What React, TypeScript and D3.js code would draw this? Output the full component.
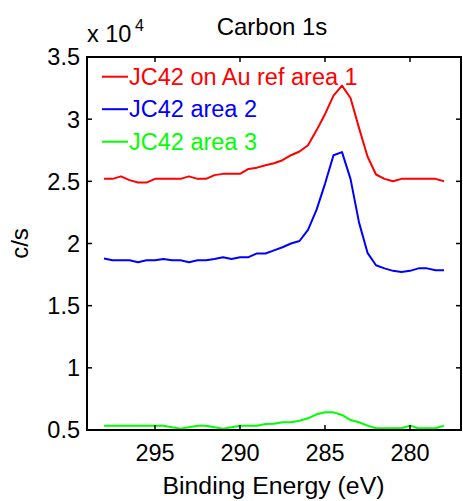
import React from "react";
import * as d3 from "d3";

const energies = [298, 297.5, 297, 296.5, 296, 295.5, 295, 294.5, 294, 293.5, 293, 292.5, 292, 291.5, 291, 290.5, 290, 289.5, 289, 288.5, 288, 287.5, 287, 286.5, 286, 285.5, 285, 284.5, 284, 283.5, 283, 282.5, 282, 281.5, 281, 280.5, 280, 279.5, 279, 278.5, 278];

const area1 = [2.52, 2.52, 2.54, 2.51, 2.49, 2.49, 2.52, 2.52, 2.52, 2.52, 2.54, 2.52, 2.52, 2.55, 2.56, 2.56, 2.56, 2.60, 2.61, 2.63, 2.645, 2.67, 2.71, 2.74, 2.79, 2.91, 3.04, 3.19, 3.27, 3.17, 2.93, 2.70, 2.555, 2.52, 2.50, 2.52, 2.52, 2.52, 2.52, 2.52, 2.50];
const area2 = [1.88, 1.865, 1.865, 1.865, 1.85, 1.865, 1.865, 1.875, 1.865, 1.865, 1.85, 1.865, 1.865, 1.875, 1.89, 1.875, 1.89, 1.89, 1.92, 1.92, 1.945, 1.97, 2.0, 2.02, 2.11, 2.27, 2.48, 2.71, 2.735, 2.52, 2.17, 1.925, 1.825, 1.8, 1.78, 1.77, 1.78, 1.8, 1.8, 1.785, 1.785];
const area3 = [0.535, 0.535, 0.535, 0.535, 0.535, 0.535, 0.535, 0.535, 0.522, 0.511, 0.522, 0.535, 0.535, 0.522, 0.511, 0.522, 0.535, 0.535, 0.535, 0.548, 0.55, 0.562, 0.562, 0.575, 0.594, 0.626, 0.642, 0.642, 0.621, 0.58, 0.562, 0.535, 0.514, 0.514, 0.514, 0.514, 0.535, 0.514, 0.514, 0.514, 0.535];

const seriesNames = ["JC42 on Au ref area 1", "JC42 area 2", "JC42 area 3"];
const seriesColors = ["#ff0000", "#0000ff", "#00ff00"];
const xTicks = [295, 290, 285, 280];
const yTicks = [0.5, 1, 1.5, 2, 2.5, 3, 3.5];
const yTickLabels = ["0.5", "1", "1.5", "2", "2.5", "3", "3.5"];

const FONT = "'Liberation Sans', Arial, Helvetica, sans-serif";

export default function App() {
  const W = 463, H = 501;
  const L = 87, R = 461, T = 57, B = 430;
  const x = d3.scaleLinear().domain([299, 277]).range([L, R]);
  const y = d3.scaleLinear().domain([0.5, 3.5]).range([B, T]);
  const series = [area1, area2, area3];
  const line = (vals: number[]) =>
    d3.line<number>().x((_, i) => x(energies[i])).y((v) => y(v))(vals) || "";
  const tk = 5;

  return (
    <svg width={W} height={H} style={{ position: "absolute", left: 0, top: 0, background: "#fff" }} fontFamily={FONT}>
      <rect x={0} y={0} width={W} height={H} fill="#fff" />
      {series.map((s, i) => (
        <path key={i} d={line(s)} fill="none" stroke={seriesColors[i]} strokeWidth={2} strokeLinejoin="round" />
      ))}
      <rect x={L} y={T} width={R - L} height={B - T} fill="none" stroke="#000" strokeWidth={2} />
      {xTicks.map((t) => (
        <g key={t}>
          <line x1={x(t)} x2={x(t)} y1={B} y2={B - tk} stroke="#000" strokeWidth={1.5} />
          <line x1={x(t)} x2={x(t)} y1={T} y2={T + tk} stroke="#000" strokeWidth={1.5} />
          <text x={x(t)} y={461} textAnchor="middle" fontSize={23.5} fill="#000">{t}</text>
        </g>
      ))}
      {yTicks.map((t, i) => (
        <g key={t}>
          <line x1={L} x2={L + tk} y1={y(t)} y2={y(t)} stroke="#000" strokeWidth={1.5} />
          <line x1={R} x2={R - tk} y1={y(t)} y2={y(t)} stroke="#000" strokeWidth={1.5} />
          <text x={80} y={y(t)} dy="0.36em" textAnchor="end" fontSize={23.5} fill="#000">{yTickLabels[i]}</text>
        </g>
      ))}
      <text x={87} y={42} fontSize={23.5} fill="#000">x 10</text>
      <text x={135} y={31} fontSize={16} fill="#000">4</text>
      <text x={272} y={35} textAnchor="middle" fontSize={24} fill="#000">Carbon 1s</text>
      <text x={273.5} y={494} textAnchor="middle" fontSize={24.8} fill="#000">Binding Energy (eV)</text>
      <text transform={`translate(28, ${(T + B) / 2}) rotate(-90)`} textAnchor="middle" fontSize={24} fill="#000">c/s</text>
      {seriesNames.map((n, i) => {
        const ly = 76.7 + i * 32.5;
        return (
          <g key={n}>
            <line x1={102} x2={128} y1={ly} y2={ly} stroke={seriesColors[i]} strokeWidth={2} />
            <text x={129} y={ly + 8} fontSize={23.5} fill={seriesColors[i]}>{n}</text>
          </g>
        );
      })}
    </svg>
  );
}
